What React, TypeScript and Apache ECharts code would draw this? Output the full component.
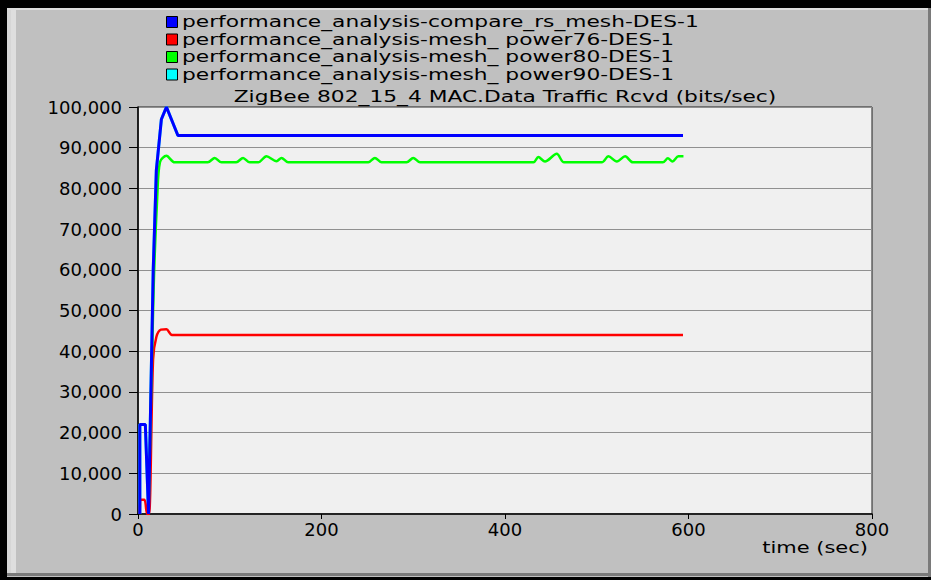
import React, { useEffect, useRef } from "react";
import * as echarts from "echarts";

const seriesNames = [
  "performance_analysis-compare_rs_mesh-DES-1",
  "performance_analysis-mesh_ power76-DES-1",
  "performance_analysis-mesh_ power80-DES-1",
  "performance_analysis-mesh_ power90-DES-1",
];
const seriesColors = ["#0000ff", "#ff0000", "#00ff00", "#00ffff"];

const titleText = "ZigBee 802_15_4 MAC.Data Traffic Rcvd (bits/sec)";
const xAxisName = "time (sec)";
const xTicks = [0, 200, 400, 600, 800];
const yTicks = [0, 10000, 20000, 30000, 40000, 50000, 60000, 70000, 80000, 90000, 100000];

// compare_rs_mesh (blue)
const blueTimes = [2, 2, 8, 11.5, 16.6, 20, 25.5, 31, 43.5, 594];
const blueValues = [0, 22000, 22000, 0, 60000, 84500, 97000, 100000, 93000, 93000];

// power76 (red)
const redTimes = [2, 2.5, 7, 10, 12, 16.4, 20, 25, 31, 37, 594];
const redValues = [0, 3500, 3500, 0, 0, 38000, 43500, 45300, 45400, 44000, 44000];

// power80 (green)
const greenTimes = [
  11.5, 17, 21, 24, 31, 40, 76, 83.7, 91, 107, 114.5, 121.8, 131, 140, 151, 156.4, 163.6,
  251, 258.2, 265.4, 292.7, 300, 307.3, 431, 436.3, 443.6, 456.4, 464.4, 505.5, 512.7,
  521.9, 530.9, 539.3, 572, 577.5, 582.5, 589, 594.5,
];
const greenValues = [
  0, 55000, 78000, 86500, 88000, 86400, 86400, 87500, 86400, 86400, 87500, 86400, 86400,
  87900, 86700, 87500, 86400, 86400, 87500, 86400, 86400, 87500, 86400, 86400, 87700,
  86600, 88500, 86400, 86400, 87900, 86600, 87900, 86400, 86400, 87400, 86600, 87900, 87900,
];

// power90 (cyan) - lies under the blue curve
const cyanTimes = [2, 2, 8, 11.5, 16.6, 20, 25.5, 31, 43.5, 594];
const cyanValues = [0, 22000, 22000, 0, 60000, 84500, 97000, 100000, 93000, 93000];

const zip = (t: number[], v: number[]) => t.map((x, i) => [x, v[i]]);

const FONT = "DejaVu Sans";
const FS = 18;
const SMALL_FS = 15;
const STRETCH = 1.45;
const legendRowsY = [22, 39.5, 57, 74.5];

export default function App() {
  const ref = useRef<HTMLDivElement>(null);

  useEffect(() => {
    if (!ref.current) return;
    const chart = echarts.init(ref.current, null, { renderer: "svg" });

    const mk = (idx: number, t: number[], v: number[], width: number, z: number, smooth: number | boolean) => ({
      name: seriesNames[idx],
      type: "line",
      data: zip(t, v),
      showSymbol: false,
      smooth,
      lineStyle: { color: seriesColors[idx], width },
      itemStyle: { color: seriesColors[idx] },
      z,
    });

    const legendGraphics = seriesNames.map((name, i) => ({
      type: "group",
      children: [
        {
          type: "rect",
          shape: { x: 166.5, y: legendRowsY[i] - 5.5, width: 11, height: 11 },
          style: { fill: seriesColors[i], stroke: "#000", lineWidth: 1 },
        },
        {
          type: "text",
          x: 182,
          y: legendRowsY[i],
          scaleX: STRETCH,
          style: {
            text: name,
            fontFamily: FONT,
            fontSize: SMALL_FS,
            fill: "#000",
            align: "left",
            verticalAlign: "middle",
          },
        },
      ],
    }));

    chart.setOption({
      animation: false,
      backgroundColor: "#000000",
      graphic: [
        { type: "rect", shape: { x: 7, y: 8, width: 924, height: 569 }, style: { fill: "#c0c0c0" }, z: -10 },
        { type: "rect", shape: { x: 7, y: 8, width: 4, height: 566 }, style: { fill: "#d6d6d6" }, z: -9 },
        { type: "rect", shape: { x: 11, y: 8, width: 5, height: 566 }, style: { fill: "#dedede" }, z: -9 },
        { type: "rect", shape: { x: 7, y: 8, width: 922, height: 2 }, style: { fill: "#dedede" }, z: -9 },
        { type: "rect", shape: { x: 928, y: 8, width: 3, height: 569 }, style: { fill: "#7a7a7a" }, z: -9 },
        { type: "rect", shape: { x: 7, y: 573, width: 924, height: 3 }, style: { fill: "#7a7a7a" }, z: -9 },
        ...legendGraphics,
        {
          type: "text",
          x: 505,
          y: 97,
          scaleX: STRETCH,
          style: {
            text: titleText,
            fontFamily: FONT,
            fontSize: SMALL_FS,
            fill: "#000",
            align: "center",
            verticalAlign: "middle",
          },
        },
        {
          type: "text",
          x: 868,
          y: 548,
          scaleX: 1.4,
          style: {
            text: xAxisName,
            fontFamily: FONT,
            fontSize: SMALL_FS,
            fill: "#000",
            align: "right",
            verticalAlign: "middle",
          },
        },
      ],
      grid: {
        left: 138,
        right: 59,
        top: 107,
        bottom: 66,
        show: true,
        backgroundColor: "#f0f0f0",
        borderColor: "#202020",
        borderWidth: 1,
        containLabel: false,
      },
      xAxis: {
        type: "value",
        min: xTicks[0],
        max: xTicks[xTicks.length - 1],
        interval: xTicks[1] - xTicks[0],
        axisLine: { show: true, lineStyle: { color: "#000", width: 1.5 } },
        axisTick: { show: true, length: 5, lineStyle: { color: "#000" } },
        splitLine: { show: false },
        axisLabel: { fontFamily: FONT, fontSize: FS, color: "#000", margin: 6 },
      },
      yAxis: {
        type: "value",
        min: yTicks[0],
        max: yTicks[yTicks.length - 1],
        interval: yTicks[1] - yTicks[0],
        axisLine: { show: true, lineStyle: { color: "#000", width: 1.5 } },
        axisTick: { show: true, length: 9, lineStyle: { color: "#000" } },
        splitLine: { show: true, lineStyle: { color: "#909090", width: 1 } },
        axisLabel: {
          fontFamily: FONT,
          fontSize: FS,
          color: "#000",
          margin: 16,
          formatter: (v: number) => String(v).replace(/\B(?=(\d{3})+(?!\d))/g, ","),
        },
      },
      series: [
        mk(3, cyanTimes, cyanValues, 3, 1, false),
        mk(1, redTimes, redValues, 2.5, 2, 0.3),
        mk(2, greenTimes, greenValues, 2.5, 3, 0.3),
        mk(0, blueTimes, blueValues, 3, 4, false),
      ],
    });

    return () => chart.dispose();
  }, []);

  return (
    <div
      ref={ref}
      style={{ position: "fixed", left: 0, top: 0, width: 931, height: 580 }}
    />
  );
}
